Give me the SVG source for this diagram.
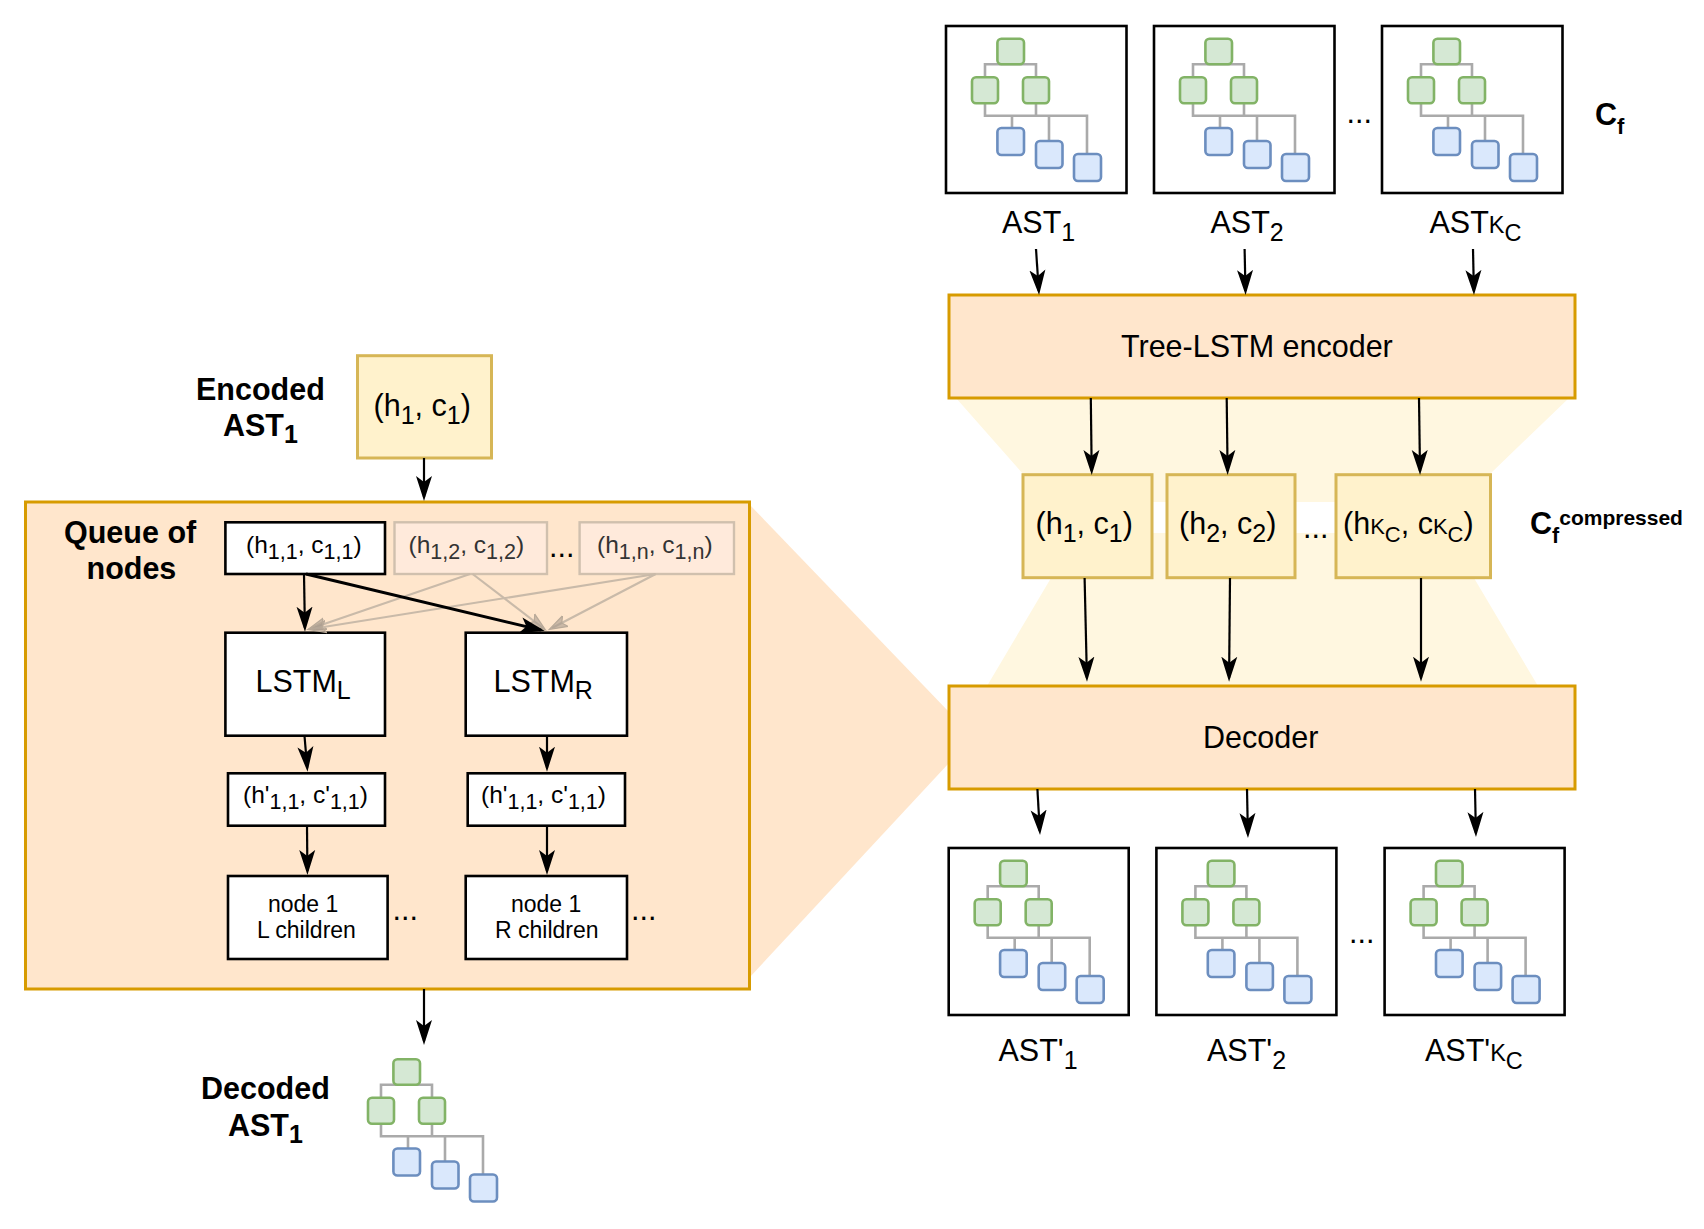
<svg xmlns="http://www.w3.org/2000/svg" xmlns:xlink="http://www.w3.org/1999/xlink" width="1704" height="1229" viewBox="0 0 1704 1229">
<style>
text{font-family:"Liberation Sans",Arial,sans-serif;fill:#000;font-size:30.5px}
.b{font-weight:bold}
.s{font-size:25px}
.k{font-size:23.5px}
.m{font-size:22px}
.t{font-size:24.5px}
.u{font-size:21.5px}
.n{font-size:23px}
.o{fill:#ffe6cc;stroke:#d79b00;stroke-width:3}
.y{fill:#fff2cc;stroke:#d6b656;stroke-width:3}
.w{fill:#fff;stroke:#000;stroke-width:2.6}
.f{fill:#ffeadb;stroke:#d0c0ae;stroke-width:2.4}
.ft{fill:#333}
.g{fill:#d5e8d4;stroke:#82b366;stroke-width:2.6}
.l{fill:#dae8fc;stroke:#6c8ebf;stroke-width:2.6}
.e{fill:none;stroke:#aaa;stroke-width:2.6}
.c{fill:none;stroke:#000;stroke-width:2.2;marker-end:url(#arr)}
.h{stroke-width:3}
.d{fill:none;stroke:#c9baa9;stroke-width:2.2;marker-end:url(#arf)}
</style>
<defs>
<marker id="arr" markerUnits="userSpaceOnUse" viewBox="0 -10 30 20" refX="21" refY="0" markerWidth="30" markerHeight="20" orient="auto"><path d="M25,0 L0,-8 L6,0 L0,8 Z" fill="#000"/></marker>
<marker id="arf" markerUnits="userSpaceOnUse" viewBox="0 -10 24 20" refX="15" refY="0" markerWidth="24" markerHeight="20" orient="auto"><path d="M18,0 L0,-6 L4,0 L0,6 Z" fill="#a89b8d" fill-opacity=".6" stroke="#b8a998" stroke-width="1.2"/></marker>
<g id="tree">
<path class="e" d="M39,51.3V38.3H90V51.3M39,77.3V89.7H141V128M90,77.3V89.7M66,89.7V102M103,89.7V115"/>
<rect class="g" x="51.4" y="12.7" width="26.6" height="25.6" rx="4"/>
<rect class="g" x="26" y="51.3" width="26" height="26" rx="4"/>
<rect class="g" x="77" y="51.3" width="26" height="26" rx="4"/>
<rect class="l" x="51.4" y="102" width="26.6" height="27" rx="4"/>
<rect class="l" x="90" y="115" width="26.5" height="27" rx="4"/>
<rect class="l" x="128" y="128" width="27" height="27" rx="4"/>
</g>
</defs>
<rect width="1704" height="1229" fill="#fff"/>
<g id="backdrops">
<polygon points="956,398 1569,398 1490,474 1474,578 1538,686 987,686 1051,578 1023,474" fill="#fff7e0"/>
<rect x="1150" y="502" width="190" height="31" fill="#fff"/>
<polygon points="750,505 949,712 949,763 750,977" fill="#ffe6cc"/>
</g>
<g id="ast-1"><rect class="w" x="946" y="26" width="180.5" height="167"/><use href="#tree" x="946" y="26"/><text x="1002" y="233">AST<tspan class="s" dy="8">1</tspan></text></g>
<g id="ast-2"><rect class="w" x="1154" y="26" width="180.5" height="167"/><use href="#tree" x="1154" y="26"/><text x="1210.5" y="233">AST<tspan class="s" dy="8">2</tspan></text></g>
<g id="ast-k"><rect class="w" x="1382" y="26" width="180.5" height="167"/><use href="#tree" x="1382" y="26"/><text x="1429.5" y="233">AST<tspan class="k">K</tspan><tspan class="k" dy="8">C</tspan></text></g>
<text id="dots-top" x="1346.5" y="123">...</text>
<text id="cf" class="b" x="1595" y="125">C<tspan class="b" style="font-size:22px" dy="9">f</tspan></text>
<g id="encoder"><rect class="o" x="949" y="295" width="626" height="103"/><text x="1121" y="356.5">Tree-LSTM encoder</text></g>
<g id="h1"><rect class="y" x="1023" y="474.7" width="129" height="103"/><text x="1035.5" y="533.5">(h<tspan class="s" dy="8">1</tspan><tspan dy="-8">, c</tspan><tspan class="s" dy="8">1</tspan><tspan dy="-8">)</tspan></text></g>
<g id="h2"><rect class="y" x="1167" y="474.7" width="128" height="103"/><text x="1179" y="533.5">(h<tspan class="s" dy="8">2</tspan><tspan dy="-8">, c</tspan><tspan class="s" dy="8">2</tspan><tspan dy="-8">)</tspan></text></g>
<g id="hk"><rect class="y" x="1336" y="474.7" width="154.5" height="103"/><text x="1343" y="533.5">(h<tspan class="m">K</tspan><tspan class="m" dy="8">C</tspan><tspan dy="-8">, c</tspan><tspan class="m">K</tspan><tspan class="m" dy="8">C</tspan><tspan dy="-8">)</tspan></text></g>
<text id="dots-mid" x="1303" y="538">...</text>
<text id="cfc" class="b" x="1530" y="534">C<tspan class="b" style="font-size:21.5px" dy="9">f</tspan><tspan class="b" style="font-size:21px" dy="-18">compressed</tspan></text>
<g id="decoder"><rect class="o" x="949" y="686" width="626" height="103"/><text x="1203" y="748">Decoder</text></g>
<g id="astp-1"><rect class="w" x="948.7" y="848" width="180" height="167"/><use href="#tree" x="948.7" y="848"/><text x="998.5" y="1061">AST'<tspan class="s" dy="8">1</tspan></text></g>
<g id="astp-2"><rect class="w" x="1156.4" y="848" width="180" height="167"/><use href="#tree" x="1156.4" y="848"/><text x="1207" y="1061">AST'<tspan class="s" dy="8">2</tspan></text></g>
<g id="astp-k"><rect class="w" x="1384.6" y="848" width="180" height="167"/><use href="#tree" x="1384.6" y="848"/><text x="1425" y="1061">AST'<tspan class="k">K</tspan><tspan class="k" dy="8">C</tspan></text></g>
<text id="dots-bot" x="1349" y="943">...</text>
<g id="encoded"><rect class="y" x="357.5" y="355.7" width="134" height="102.3"/><text x="373.5" y="415.5">(h<tspan class="s" dy="8">1</tspan><tspan dy="-8">, c</tspan><tspan class="s" dy="8">1</tspan><tspan dy="-8">)</tspan></text>
<text class="b" x="196" y="400">Encoded</text><text class="b" x="223" y="436">AST<tspan class="b s" dy="7">1</tspan></text></g>
<g id="panel"><rect class="o" x="25.5" y="502" width="724" height="487"/>
<text class="b" x="64" y="543">Queue of</text><text class="b" x="86.5" y="578.7">nodes</text></g>
<g id="q1"><rect class="w" x="225.4" y="522.3" width="159.6" height="51.7"/><text class="t" x="246" y="553">(h<tspan class="u" dy="6">1,1</tspan><tspan dy="-6">, c</tspan><tspan class="u" dy="6">1,1</tspan><tspan dy="-6">)</tspan></text></g>
<g id="q2"><rect class="f" x="394.5" y="522.3" width="152.5" height="51.7"/><text class="t ft" x="408.5" y="553">(h<tspan class="u ft" dy="6">1,2</tspan><tspan dy="-6">, c</tspan><tspan class="u ft" dy="6">1,2</tspan><tspan dy="-6">)</tspan></text></g>
<text id="dots-q" x="549" y="557">...</text>
<g id="q3"><rect class="f" x="579.6" y="522.3" width="154.4" height="51.7"/><text class="t ft" x="597" y="553">(h<tspan class="u ft" dy="6">1,n</tspan><tspan dy="-6">, c</tspan><tspan class="u ft" dy="6">1,n</tspan><tspan dy="-6">)</tspan></text></g>
<g id="lstm-l"><rect class="w" x="225.4" y="632.7" width="159.6" height="103"/><text x="255.5" y="692">LSTM<tspan class="s" dy="7">L</tspan></text></g>
<g id="lstm-r"><rect class="w" x="465.7" y="632.7" width="161.3" height="103"/><text x="493.5" y="692">LSTM<tspan class="s" dy="7">R</tspan></text></g>
<g id="out-l"><rect class="w" x="228" y="773.3" width="157" height="52.4"/><text class="t" x="243" y="803">(h'<tspan class="u" dy="6">1,1</tspan><tspan dy="-6">, c'</tspan><tspan class="u" dy="6">1,1</tspan><tspan dy="-6">)</tspan></text></g>
<g id="out-r"><rect class="w" x="467.7" y="773.3" width="157.3" height="52.4"/><text class="t" x="481" y="803">(h'<tspan class="u" dy="6">1,1</tspan><tspan dy="-6">, c'</tspan><tspan class="u" dy="6">1,1</tspan><tspan dy="-6">)</tspan></text></g>
<g id="child-l"><rect class="w" x="228" y="876" width="159.6" height="83"/><text class="n" x="268" y="912">node 1</text><text class="n" x="257" y="937.7">L children</text></g>
<text id="dots-l" x="392.5" y="920">...</text>
<g id="child-r"><rect class="w" x="465.7" y="876" width="161.3" height="83"/><text class="n" x="511" y="912">node 1</text><text class="n" x="495" y="937.7">R children</text></g>
<text id="dots-r" x="631" y="920">...</text>
<g id="decoded"><use href="#tree" x="342" y="1046.5"/><text class="b" x="201" y="1099">Decoded</text><text class="b" x="228" y="1136">AST<tspan class="b s" dy="7">1</tspan></text></g>
<g id="connectors">
<line class="c" x1="1036" y1="249" x2="1038.8" y2="291"/>
<line class="c" x1="1244.6" y1="249" x2="1245.5" y2="291"/>
<line class="c" x1="1473" y1="249" x2="1473.9" y2="291"/>
<line class="c" x1="1090.8" y1="398" x2="1091.7" y2="471"/>
<line class="c" x1="1226.7" y1="398" x2="1227.6" y2="471"/>
<line class="c" x1="1419" y1="398" x2="1420" y2="471"/>
<line class="c" x1="1084.6" y1="578" x2="1086.9" y2="677.7"/>
<line class="c" x1="1230" y1="578" x2="1229.1" y2="677.7"/>
<line class="c" x1="1421" y1="578" x2="1421" y2="677.7"/>
<line class="c" x1="1037.4" y1="789" x2="1039.8" y2="831"/>
<line class="c" x1="1247" y1="789" x2="1247.9" y2="834"/>
<line class="c" x1="1475" y1="789" x2="1475.9" y2="833"/>
<line class="c" x1="424" y1="458" x2="424" y2="497"/>
<line class="c" x1="424" y1="989" x2="424" y2="1041"/>
<line class="d" x1="470" y1="574" x2="311" y2="628.5"/>
<line class="d" x1="655.7" y1="574" x2="311" y2="629"/>
<line class="d" x1="472.6" y1="574" x2="543" y2="628"/>
<line class="d" x1="655.7" y1="574" x2="552" y2="628"/>
<line class="c" x1="304" y1="574" x2="304.9" y2="627.7"/>
<line class="c h" x1="306" y1="574" x2="541" y2="630.1"/>
<line class="c" x1="304.5" y1="736" x2="307.2" y2="767.7"/>
<line class="c" x1="547" y1="736" x2="547" y2="767.7"/>
<line class="c" x1="307" y1="826" x2="307.4" y2="871"/>
<line class="c" x1="547" y1="826" x2="547" y2="871"/>
</g>
</svg>
